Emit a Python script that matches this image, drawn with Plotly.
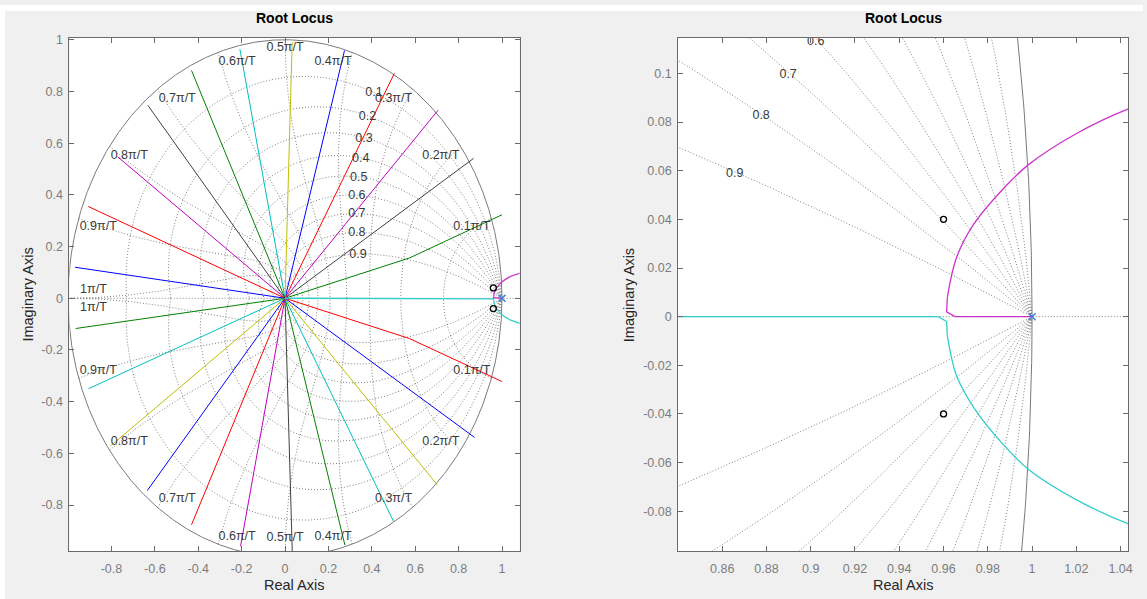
import numpy as np
import plotly.graph_objects as go

# ---------------- data ----------------
# straight root-locus branches leaving the origin: end points
ray_end_re = [0.869, 0.705, 0.504, 0.274, 0.033, -0.208, -0.431, -0.632, -0.771, -0.907, -0.968,
              -0.965, -0.906, -0.804, -0.635, -0.431, -0.205, 0.034, 0.276, 0.500, 0.702, 0.873]
ray_end_im = [0.541, 0.727, 0.870, 0.958, 0.990, 0.964, 0.881, 0.746, 0.547, 0.355, 0.120,
              -0.117, -0.350, -0.571, -0.744, -0.876, -0.959, -1.000, -0.955, -0.863, -0.722, -0.538]
ray_color_key = ["k", "m", "r", "b", "y", "c", "g", "k", "m", "r", "b",
                 "g", "c", "y", "b", "r", "m", "k", "g", "c", "y", "b"]

# two bent branches near the positive real axis
bent_up_re = [0.0, 0.574, 1.0]
bent_up_im = [0.0, 0.156, 0.323]
bent_dn_re = [0.0, 0.574, 1.0]
bent_dn_im = [0.0, -0.156, -0.322]

# branches around z = 1: straight part along / off the real axis ...
mag_stub_re = [1.0, 0.9652, 0.9614, 0.9617]
mag_stub_im = [0.0, 0.0, 0.0020, 0.0077]
cya_stub_re = [0.0, 0.9577, 0.9614, 0.9617]
cya_stub_im = [0.0, 0.0, -0.0020, -0.0077]
# ... and the curved part (magenta: upper, cyan: lower)
mag_arc_re = [0.9617, 0.9658, 0.9735, 0.9870, 0.9984, 1.0195, 1.0435, 1.0900]
mag_arc_im = [0.0077, 0.0241, 0.0378, 0.0526, 0.0625, 0.0750, 0.0854, 0.0990]
cya_arc_re = [0.9617, 0.9658, 0.9739, 0.9870, 0.9984, 1.0195, 1.0435, 1.0900]
cya_arc_im = [-0.0077, -0.0241, -0.0377, -0.0526, -0.0628, -0.0750, -0.0852, -0.0990]

zero_re = [0.96, 0.96]
zero_im = [0.04, -0.04]
pole_re = [1.0]
pole_im = [0.0]

# z-plane grid values
damping_ratios = [0.1, 0.2, 0.3, 0.4, 0.5, 0.6, 0.7, 0.8, 0.9]
natural_freqs = [0.1, 0.2, 0.3, 0.4, 0.5, 0.6, 0.7, 0.8, 0.9, 1.0]   # x pi/T
wn_labels = ["0.1π/T", "0.2π/T", "0.3π/T", "0.4π/T", "0.5π/T",
             "0.6π/T", "0.7π/T", "0.8π/T", "0.9π/T", "1π/T"]
zeta_labels = ["0.1", "0.2", "0.3", "0.4", "0.5", "0.6", "0.7", "0.8", "0.9"]

x_ticks_left = [-0.8, -0.6, -0.4, -0.2, 0, 0.2, 0.4, 0.6, 0.8, 1]
y_ticks_left = [-0.8, -0.6, -0.4, -0.2, 0, 0.2, 0.4, 0.6, 0.8, 1]
x_ticks_right = [0.86, 0.88, 0.9, 0.92, 0.94, 0.96, 0.98, 1, 1.02, 1.04]
y_ticks_right = [-0.08, -0.06, -0.04, -0.02, 0, 0.02, 0.04, 0.06, 0.08, 0.1]

# ---------------- styles ----------------
MCOL = {"b": "#0000ff", "g": "#008000", "r": "#ff0000", "c": "#00bfbf",
        "m": "#bf00bf", "y": "#bfbf00", "k": "#404040"}
GRID_COL = "#808080"
DOT = "1px,2px"
FONT = "Liberation Sans, Arial, sans-serif"
W, H = 1147, 599

fig = go.Figure()


def fmt(v):
    return "%g" % v


def add_grid(xa, ya, xr):
    # damping-ratio spirals (start at z = 1)
    th = np.linspace(0, np.pi, 900)
    gx, gy = [], []
    for z in damping_ratios:
        m = z / np.sqrt(1 - z * z)
        zz = np.exp(th * (-m + 1j))
        for sgn in (1, -1):
            gx += list(zz.real) + [None]
            gy += list(sgn * zz.imag) + [None]
    # natural-frequency curves
    zt = np.linspace(0, 1, 300)
    for w in natural_freqs:
        wn = w * np.pi
        zz = np.exp(-zt * wn + 1j * wn * np.sqrt(1 - zt ** 2))
        for sgn in (1, -1):
            gx += list(zz.real) + [None]
            gy += list(sgn * zz.imag) + [None]
    fig.add_trace(go.Scatter(x=gx, y=gy, mode="lines", xaxis=xa, yaxis=ya,
                             line=dict(color=GRID_COL, width=1, dash=DOT),
                             hoverinfo="skip", showlegend=False, connectgaps=False))
    # real axis (zeta = 1)
    fig.add_trace(go.Scatter(x=[xr[0] - 0.1, xr[1] + 0.1], y=[0, 0], mode="lines",
                             xaxis=xa, yaxis=ya,
                             line=dict(color=GRID_COL, width=1, dash=DOT),
                             hoverinfo="skip", showlegend=False))
    # unit circle
    a = np.linspace(0, 2 * np.pi, 2000)
    fig.add_trace(go.Scatter(x=np.cos(a), y=np.sin(a), mode="lines", xaxis=xa, yaxis=ya,
                             line=dict(color="#7a7a7a", width=1),
                             hoverinfo="skip", showlegend=False))


def add_locus(xa, ya, lw):
    for ex, ey, ck in zip(ray_end_re, ray_end_im, ray_color_key):
        fig.add_trace(go.Scatter(x=[0, ex], y=[0, ey], mode="lines", xaxis=xa, yaxis=ya,
                                 line=dict(color=MCOL[ck], width=lw),
                                 hoverinfo="skip", showlegend=False))
    fig.add_trace(go.Scatter(x=bent_up_re, y=bent_up_im, mode="lines", xaxis=xa, yaxis=ya,
                             line=dict(color=MCOL["g"], width=lw), showlegend=False))
    fig.add_trace(go.Scatter(x=bent_dn_re, y=bent_dn_im, mode="lines", xaxis=xa, yaxis=ya,
                             line=dict(color=MCOL["r"], width=lw), showlegend=False))
    for sx, sy, axx, ayy, col in ((cya_stub_re, cya_stub_im, cya_arc_re, cya_arc_im, "#33cccc"),
                                   (mag_stub_re, mag_stub_im, mag_arc_re, mag_arc_im, "#cc33cc")):
        fig.add_trace(go.Scatter(x=sx, y=sy, mode="lines", xaxis=xa, yaxis=ya,
                                 line=dict(color=col, width=lw + 0.3), showlegend=False))
        fig.add_trace(go.Scatter(x=axx, y=ayy, mode="lines", xaxis=xa, yaxis=ya,
                                 line=dict(color=col, width=lw + 0.3, shape="spline",
                                           smoothing=1.0),
                                 showlegend=False))
    fig.add_trace(go.Scatter(x=zero_re, y=zero_im, mode="markers", xaxis=xa, yaxis=ya,
                             marker=dict(symbol="circle-open", size=6, color="#000000",
                                         line=dict(width=1.3, color="#000000")),
                             showlegend=False))
    fig.add_trace(go.Scatter(x=pole_re, y=pole_im, mode="markers", xaxis=xa, yaxis=ya,
                             marker=dict(symbol="x-thin", size=7,
                                         line=dict(width=1.5, color="#3d80d6")),
                             showlegend=False))


XR_L = [-0.994, 1.081]
YR_L = [-0.979, 1.0065]
XR_R = [0.8401, 1.0435]
YR_R = [-0.0965, 0.11455]

add_grid("x", "y", XR_L)
add_grid("x2", "y2", XR_R)
add_locus("x", "y", 1.0)
add_locus("x2", "y2", 1.0)

LBL = dict(size=12.5, color="#3a3a3a", family=FONT)

# natural frequency labels (left plot)
wn_up_x = [0.861, 0.718, 0.500, 0.221, 0.0, -0.221, -0.497, -0.718, -0.861, -0.883]
wn_up_y = [0.275, 0.549, 0.772, 0.914, 0.968, 0.914, 0.772, 0.549, 0.275, 0.032]
wn_dn_y = [-0.279, -0.556, -0.777, -0.921, -0.925, -0.921, -0.777, -0.556, -0.279, -0.036]
fig.add_trace(go.Scatter(x=wn_up_x + wn_up_x, y=wn_up_y + wn_dn_y, text=wn_labels + wn_labels,
                         mode="text", textposition="middle center", textfont=LBL,
                         xaxis="x", yaxis="y", hoverinfo="skip", showlegend=False))
# damping labels (left plot)
fig.add_trace(go.Scatter(x=[0.41, 0.38, 0.364, 0.349, 0.34, 0.331, 0.331, 0.331, 0.336],
                         y=[0.795, 0.702, 0.616, 0.54, 0.467, 0.395, 0.325, 0.252, 0.169],
                         text=zeta_labels, mode="text", textposition="middle center",
                         textfont=LBL, xaxis="x", yaxis="y", hoverinfo="skip", showlegend=False))
# damping labels (right plot)
fig.add_trace(go.Scatter(x=[0.9023, 0.8898, 0.8776, 0.8657],
                         y=[0.1128, 0.0996, 0.0826, 0.0588],
                         text=zeta_labels[5:], mode="text", textposition="middle center",
                         textfont=LBL, xaxis="x2", yaxis="y2", hoverinfo="skip", showlegend=False))

AX_COL = "#6a6a6a"
TICK_FONT = dict(size=12.5, color="#7c7c7c", family=FONT)


def axis(domain, rng, ticks, anchor, is_x):
    d = dict(domain=domain, range=rng, tickvals=ticks, ticktext=[fmt(t) for t in ticks],
             anchor=anchor, showgrid=False, zeroline=False, showline=True, linecolor=AX_COL,
             linewidth=1, mirror="ticks", ticks="inside", ticklen=5, tickcolor=AX_COL,
             tickwidth=1, tickfont=TICK_FONT, fixedrange=True)
    d["ticklabelstandoff"] = 6 if is_x else 3
    return d


xl = [69.6 / W, 521.4 / W]
xr = [680.5 / W, 1132.3 / W]
yd = [1 - 551 / H, 1 - 33.3 / H]

annotations = []
for cx in (295.5, 906.4):
    annotations.append(dict(x=cx / W, y=1 - 13 / H, xref="paper", yref="paper",
                            text="<b>Root Locus</b>", showarrow=False,
                            font=dict(size=14, color="#000000", family=FONT),
                            xanchor="center", yanchor="middle"))
    annotations.append(dict(x=cx / W, y=1 - 585 / H, xref="paper", yref="paper",
                            text="Real Axis", showarrow=False,
                            font=dict(size=14.5, color="#262626", family=FONT),
                            xanchor="center", yanchor="middle"))
for cx in (27.9, 630.6):
    annotations.append(dict(x=cx / W, y=1 - 292.2 / H, xref="paper", yref="paper",
                            text="Imaginary Axis", showarrow=False, textangle=-90,
                            font=dict(size=14.5, color="#262626", family=FONT),
                            xanchor="center", yanchor="middle"))

shapes = [
    dict(type="rect", xref="paper", yref="paper", x0=0, x1=1, y0=1 - 6 / H, y1=1,
         fillcolor="#ffffff", line=dict(width=0), layer="below"),
    dict(type="rect", xref="paper", yref="paper", x0=0, x1=5 / W, y0=0, y1=1,
         fillcolor="#ffffff", line=dict(width=0), layer="below"),
]

fig.update_layout(
    width=W, height=H, margin=dict(l=0, r=0, t=0, b=0),
    paper_bgcolor="#f0f0f0", plot_bgcolor="#ffffff",
    font=dict(family=FONT),
    xaxis=axis(xl, XR_L, x_ticks_left, "y", True),
    yaxis=axis(yd, YR_L, y_ticks_left, "x", False),
    xaxis2=axis(xr, XR_R, x_ticks_right, "y2", True),
    yaxis2=axis(yd, YR_R, y_ticks_right, "x2", False),
    annotations=annotations, shapes=shapes, showlegend=False,
)

fig.write_html("out.html",
               config={"displayModeBar": False, "staticPlot": True},
               post_script="document.body.style.margin='0px';"
                           "document.body.style.overflow='hidden';")
